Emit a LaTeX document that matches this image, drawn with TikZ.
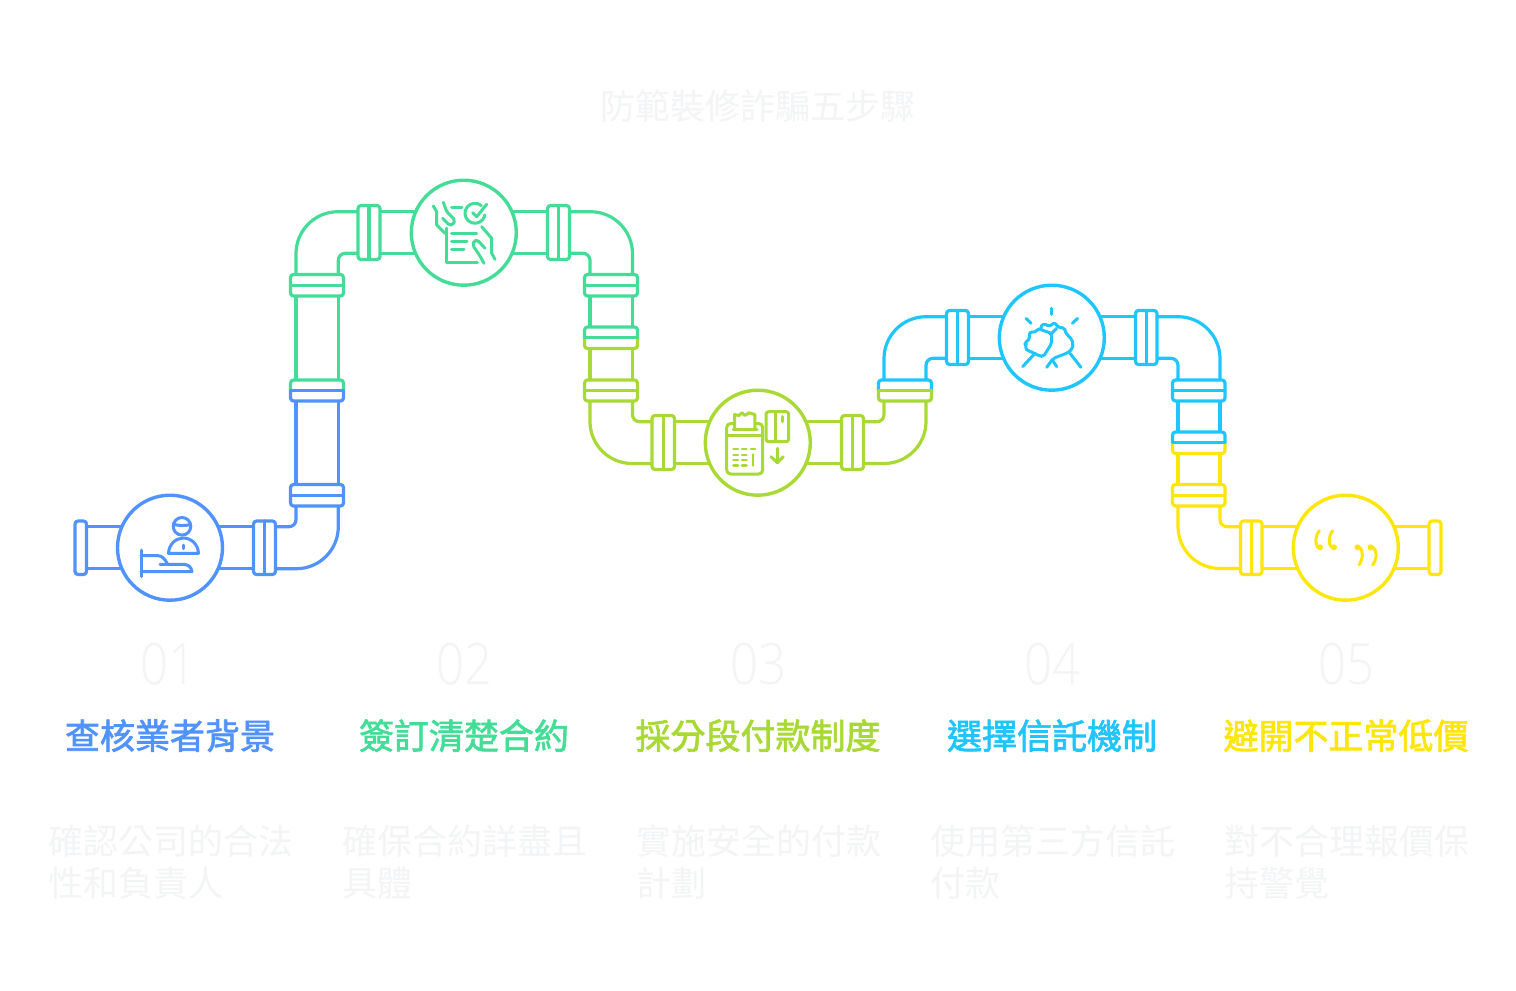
\documentclass[tikz,border=0pt]{standalone}
\usepackage{fontspec}
\newfontfamily\cjkreg{Noto Sans CJK TC}
\newfontfamily\cjkmed{Noto Sans CJK TC}[FakeBold=2]
\newfontfamily\numfont{Open Sans}[UprightFont=* Light]
\definecolor{cblue}{HTML}{5093FF}
\definecolor{cgreen}{HTML}{44DD97}
\definecolor{clime}{HTML}{A8D934}
\definecolor{ccyan}{HTML}{1EC5FF}
\definecolor{cyell}{HTML}{FFE60A}
\definecolor{pale}{HTML}{F3F4F5}
\tikzset{
 pipe/.style={line width=3.2pt,line join=round,line cap=round},
 ico/.style={line width=3pt,line join=round,line cap=round},
 hub/.style={circle,fill=white,line width=3.4pt,minimum size=105pt,inner sep=0pt,outer sep=0pt},
 titletext/.style={inner sep=0pt,text=pale,font=\cjkreg\fontsize{35}{42}\selectfont},
 numtext/.style={inner sep=0pt,text=pale,xscale=0.86,transform shape,font=\numfont\fontsize{57}{60}\selectfont},
 headtext/.style={inner sep=0pt,font=\cjkmed\fontsize{35}{42}\selectfont},
 desctext/.style={inner sep=0pt,text=pale,align=left,font=\cjkreg\fontsize{35}{42}\selectfont},
}
% coupling across a vertical pipe: x1,y1,x2,y2,colour
\newcommand\vcoup[5]{\draw[pipe,#5,fill=white,rounded corners=3pt] (#1,#2) rectangle (#3,#4);
 \draw[pipe,#5] (#1,{(#2+#4)/2}) -- (#3,{(#2+#4)/2});}
% coupling across a horizontal pipe
\newcommand\hcoup[5]{\draw[pipe,#5,fill=white,rounded corners=3pt] (#1,#2) rectangle (#3,#4);
 \draw[pipe,#5] ({(#1+#3)/2},#2) -- ({(#1+#3)/2},#4);}
% two-colour coupling: x1,y1,x2,y2,top colour,bottom colour,line colour
\newcommand\bicoup[7]{\fill[white] (#1,#2) rectangle (#3,#4);
 \draw[pipe,#5,rounded corners=3pt,line cap=butt] (#1,{(#2+#4)/2}) -- (#1,#2) -- (#3,#2) -- (#3,{(#2+#4)/2});
 \draw[pipe,#6,rounded corners=3pt,line cap=butt] (#1,{(#2+#4)/2}) -- (#1,#4) -- (#3,#4) -- (#3,{(#2+#4)/2});
 \draw[pipe,#7] (#1,{(#2+#4)/2}) -- (#3,{(#2+#4)/2});}
\begin{document}
\begin{tikzpicture}[x=1pt,y=-1pt]
\useasboundingbox (0,0) rectangle (1516,991);
\fill[white] (0,0) rectangle (1516,991);

% ---- pipes ----
\begin{scope}[pipe,cblue]
\draw (80,526.7) -- (260,526.7); \draw (80,568.7) -- (270,568.7);
\draw[rounded corners=7pt] (270,526.7) -- (296,526.7) -- (296,500);
\draw[rounded corners=42pt] (270,568.7) -- (338.3,568.7) -- (338.3,500);
\draw (296,495) -- (296,395); \draw (338.3,495) -- (338.3,395);
\end{scope}
\begin{scope}[pipe,cgreen]
\draw (296,385) -- (296,285); \draw (338.3,385) -- (338.3,285);
\draw[rounded corners=42pt] (296,285) -- (296,211.7) -- (370,211.7);
\draw[rounded corners=7pt] (338.3,285) -- (338.3,253.3) -- (370,253.3);
\draw (370,211.7) -- (558,211.7); \draw (370,253.3) -- (558,253.3);
\draw[rounded corners=42pt] (558,211.7) -- (632.5,211.7) -- (632.5,285);
\draw[rounded corners=7pt] (558,253.3) -- (590,253.3) -- (590,285);
\draw (590,285) -- (590,335); \draw (632.5,285) -- (632.5,335);
\end{scope}
\begin{scope}[pipe,clime]
\draw (590,340) -- (590,390); \draw (632.5,340) -- (632.5,390);
\draw[rounded corners=42pt] (590,390) -- (590,463.5) -- (664,463.5);
\draw[rounded corners=7pt] (632.5,390) -- (632.5,421.7) -- (664,421.7);
\draw (664,463.5) -- (852,463.5); \draw (664,421.7) -- (852,421.7);
\draw[rounded corners=42pt] (852,463.5) -- (926,463.5) -- (926,395);
\draw[rounded corners=7pt] (852,421.7) -- (884,421.7) -- (884,395);
\end{scope}
\begin{scope}[pipe,ccyan]
\draw[rounded corners=42pt] (884,385) -- (884,316.7) -- (957,316.7);
\draw[rounded corners=7pt] (926,385) -- (926,358.3) -- (957,358.3);
\draw (957,316.7) -- (1146,316.7); \draw (957,358.3) -- (1146,358.3);
\draw[rounded corners=42pt] (1146,316.7) -- (1220,316.7) -- (1220,390);
\draw[rounded corners=7pt] (1146,358.3) -- (1178,358.3) -- (1178,390);
\draw (1178,390) -- (1178,440); \draw (1220,390) -- (1220,440);
\end{scope}
\begin{scope}[pipe,cyell]
\draw (1178,445) -- (1178,495); \draw (1220,445) -- (1220,495);
\draw[rounded corners=42pt] (1178,495) -- (1178,568.5) -- (1251,568.5);
\draw[rounded corners=7pt] (1220,495) -- (1220,526.7) -- (1251,526.7);
\draw (1251,526.7) -- (1435,526.7); \draw (1251,568.5) -- (1435,568.5);
\end{scope}

% ---- couplings ----
\draw[pipe,cblue,fill=white,rounded corners=3pt] (75,521) rectangle (86.5,574.5);
\hcoup{253.5}{521}{275.5}{574.5}{cblue}
\vcoup{290.5}{484.5}{343.5}{506}{cblue}
\bicoup{290.5}{380}{343.5}{401}{cgreen}{cblue}{cblue}
\vcoup{290.5}{274.5}{343.5}{296}{cgreen}
\hcoup{358}{205.5}{380}{259.5}{cgreen}
\hcoup{547.5}{205.5}{569.5}{259.5}{cgreen}
\vcoup{584.5}{274.5}{637.5}{296}{cgreen}
\bicoup{584.5}{327}{637.5}{348.5}{cgreen}{clime}{cgreen}
\vcoup{584.5}{380}{637.5}{401}{clime}
\hcoup{652}{415.5}{674.5}{469.5}{clime}
\hcoup{841.5}{415.5}{863.5}{469.5}{clime}
\bicoup{878.5}{380}{931.5}{401}{ccyan}{clime}{clime}
\hcoup{946.5}{310.5}{968.5}{364.5}{ccyan}
\hcoup{1135.5}{310.5}{1157}{364.5}{ccyan}
\vcoup{1172.5}{380}{1225}{401}{ccyan}
\bicoup{1172.5}{432}{1225}{453.5}{ccyan}{cyell}{ccyan}
\vcoup{1172.5}{484.5}{1225}{506}{cyell}
\hcoup{1240.5}{521}{1262}{574.5}{cyell}
\draw[pipe,cyell,fill=white,rounded corners=3pt] (1429,521) rectangle (1441,574.5);

% ---- hubs ----
\node[hub,draw=cblue]  (hub1) at (170,547.7) {};
\node[hub,draw=cgreen] (hub2) at (463.8,232.7) {};
\node[hub,draw=clime]  (hub3) at (757.8,442.7) {};
\node[hub,draw=ccyan]  (hub4) at (1051.8,337.7) {};
\node[hub,draw=cyell]  (hub5) at (1345.8,547.7) {};

% ---- icon 1 ----
\begin{scope}[ico,cblue]
\draw (182,526.3) circle[radius=8.8];
\draw (173.5,524) .. controls (178,526) and (185,526) .. (190.5,524.5);
\draw (168.5,553.3) .. controls (169,544) and (176,538) .. (183.3,538) .. controls (191,538) and (198,544) .. (198.5,553.3) -- cycle;
\draw (183.3,545) -- (183.3,548.5);
\draw (141,550) -- (141,576.5);
\draw (141,555.7) -- (158,555.7) .. controls (162,555.7) and (165,559) .. (167.5,564);
\draw (160,564.3) -- (183,564.3) .. controls (188,564.3) and (191.5,567) .. (192,571.7) -- (141,571.7);
\end{scope}

% ---- icon 2 ----
\begin{scope}[ico,cgreen]
\draw (446.7,228) -- (446.7,262.7) -- (477.3,262.7);
\draw (451.7,233) -- (476.7,233);
\draw (451.7,241.7) -- (467,241.7);
\draw (451.7,249.3) -- (464,249.3);
\draw (451.7,207.3) -- (462,207.3);
\draw (481.4,205.6) arc[start angle=-50,end angle=-350,radius=10];
\draw (472.7,212.7) -- (476.7,216.7) -- (486.7,204.3);
\draw (433.3,206) -- (436.7,211.7) -- (436.7,225) -- (445,233.3);
\draw[rounded corners=2pt] (443.3,202.3) -- (446.7,211.7) -- (455,220) -- (453,225) -- (449,225) -- (442.7,218.3);
\draw (481.7,226.7) -- (491.7,238.3) -- (491.7,253.3) -- (495,259.3);
\draw[rounded corners=2pt] (484,263.3) -- (480,256) -- (472.7,245) -- (474,240.5) -- (477.5,240) -- (485,248.3);
\end{scope}

% ---- icon 3 ----
\begin{scope}[ico,clime]
\draw[rounded corners=4pt] (733.5,423.5) -- (726.7,423.5) -- (726.7,474) -- (762.7,474) -- (762.7,423.5) -- (756,423.5);
\draw (726.7,435) -- (762.7,435);
\draw (733,429.7) -- (757,429.7);
\draw (734.5,429.7) -- (734.5,414.5) -- (739,415.5) -- (742,412.8) -- (745,415.5) -- (749,412.8) -- (754.8,414.5) -- (754.8,429.7);
\foreach \yy in {449,455,460,465.3}{\draw[line width=2.6pt] (733.5,\yy) -- (738,\yy); \draw[line width=2.6pt] (742,\yy) -- (746.5,\yy);}
\draw[line width=2.6pt] (751,449) -- (755,449);
\draw[line width=2.6pt] (753,454.5) -- (753,465.5);
\draw[rounded corners=2.5pt] (766,411.7) rectangle (788.7,441.7);
\draw (775,411.7) -- (775,441.7);
\draw (782.3,416.7) -- (782.3,421.7);
\draw (777.3,448.3) -- (777.3,462.7);
\draw (771,456.7) -- (777.3,462.7) -- (783.3,456.7);
\end{scope}

% ---- icon 4 ----
\begin{scope}[ico,ccyan,shift={(870,275)},x=0.3333pt,y=-0.3333pt]
\draw (545,100) -- (545,118);
\draw (468,130) -- (483,145);
\draw (623,130) -- (607,145);
\draw (458,275) -- (495,235);
\draw[rounded corners=2pt] (465,222) -- (470,208) -- (464,205) -- (480,190) -- (478,172) -- (500,170) -- (505,160) -- (515,165) -- (545,175) -- (545,205) -- (520,245) -- (510,243) -- cycle;
\draw[rounded corners=2pt] (515,165) -- (510,155) -- (525,145) -- (535,155) -- (555,143) -- (565,158) -- (583,158) -- (590,180) -- (600,185) -- (610,205) -- (605,225) -- (590,235) -- (550,250) -- (530,277);
\draw (545,175) -- (560,160);
\draw (600,235) -- (633,277);
\draw (548,256) -- (560,275);
\end{scope}

% ---- icon 5 ----
\begin{scope}[ico,cyell,shift={(1160,420)},x=0.3333pt,y=-0.3333pt]
\fill (480,382) circle[radius=9]; \fill (522,382) circle[radius=9];
\fill (592,382) circle[radius=9]; \fill (632,382) circle[radius=9];
\draw (478,332) .. controls (465,350) and (465,370) .. (473,382);
\draw (518,332) .. controls (505,350) and (505,370) .. (514,382);
\draw (597,435) .. controls (610,415) and (610,395) .. (600,382);
\draw (638,435) .. controls (652,415) and (652,395) .. (640,382);
\end{scope}

% ---- texts ----
\node[titletext,anchor=base] (title) at (758,119) {防範裝修詐騙五步驟};
\node[numtext,anchor=base] (n1) at (168,684) {01};
\node[numtext,anchor=base] (n2) at (464,684) {02};
\node[numtext,anchor=base] (n3) at (758,684) {03};
\node[numtext,anchor=base] (n4) at (1052,684) {04};
\node[numtext,anchor=base] (n5) at (1346,684) {05};
\node[headtext,anchor=base,text=cblue] (h1) at (170,749) {查核業者背景};
\node[headtext,anchor=base,text=cgreen] (h2) at (464,749) {簽訂清楚合約};
\node[headtext,anchor=base,text=clime] (h3) at (758,749) {採分段付款制度};
\node[headtext,anchor=base,text=ccyan] (h4) at (1052,749) {選擇信託機制};
\node[headtext,anchor=base,text=cyell] (h5) at (1346,749) {避開不正常低價};
\node[desctext,anchor=north west] (d1) at (48.5,825) {確認公司的合法\\性和負責人};
\node[desctext,anchor=north west] (d2) at (342.5,825) {確保合約詳盡且\\具體};
\node[desctext,anchor=north west] (d3) at (636.5,825) {實施安全的付款\\計劃};
\node[desctext,anchor=north west] (d4) at (930.5,825) {使用第三方信託\\付款};
\node[desctext,anchor=north west] (d5) at (1224.5,825) {對不合理報價保\\持警覺};
\end{tikzpicture}
\end{document}
